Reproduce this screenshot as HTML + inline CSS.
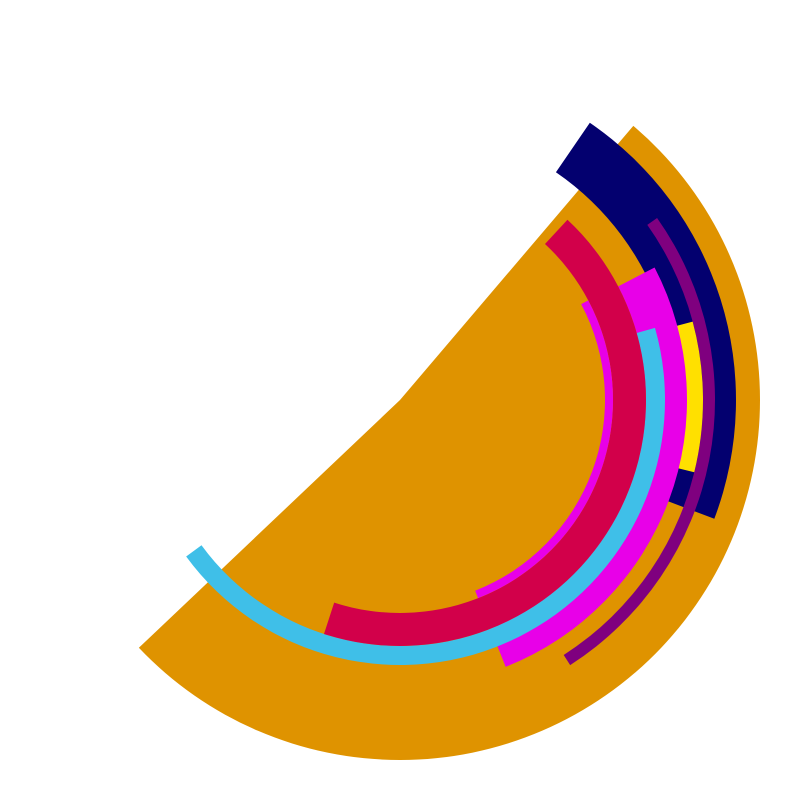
<!DOCTYPE html>
<html><head><meta charset="utf-8"><style>html,body{margin:0;padding:0;background:#fff}svg{display:block}</style></head>
<body>
<svg id="chart" width="800" height="800" viewBox="0 0 800 800"></svg>
<script>
const seriesNames = ["sector-orange","arc-navy","arc-purple","arc-yellow","arc-magenta","arc-cyan","arc-crimson","arc-small-magenta"];
const startAngles = [-49.6,-55.6,-35.3,-15,-27.5,-15.8,-47.1,-27.9];
const endAngles = [136.5,20.7,57.3,13.8,68.4,143.8,108,68.5];
const innerValues = [0,276,303,278,246,246,213,205];
const outerValues = [360,336,315,303,287,265,246,213];
const colors = ["#df9300","#03006f","#7f007f","#ffe000","#e800e8","#3fbfe8","#d2004a","#e800e8"];
const cx = 400, cy = 400;
const svg = document.getElementById('chart');
function pt(r, a){const t=a*Math.PI/180;return [cx+r*Math.cos(t), cy+r*Math.sin(t)];}
function arcPath(a0,a1,r0,r1){
  const large = (a1-a0)>180?1:0;
  const [x0,y0]=pt(r1,a0),[x1,y1]=pt(r1,a1);
  let d=`M${x0},${y0} A${r1},${r1} 0 ${large} 1 ${x1},${y1}`;
  if(r0<=0){d+=` L${cx},${cy} Z`;}
  else{const [x2,y2]=pt(r0,a1),[x3,y3]=pt(r0,a0);d+=` L${x2},${y2} A${r0},${r0} 0 ${large} 0 ${x3},${y3} Z`;}
  return d;
}
for(let i=0;i<seriesNames.length;i++){
  const p=document.createElementNS('http://www.w3.org/2000/svg','path');
  p.setAttribute('d',arcPath(startAngles[i],endAngles[i],innerValues[i],outerValues[i]));
  p.setAttribute('fill',colors[i]);
  
  
  svg.appendChild(p);
}
</script>
</body></html>
